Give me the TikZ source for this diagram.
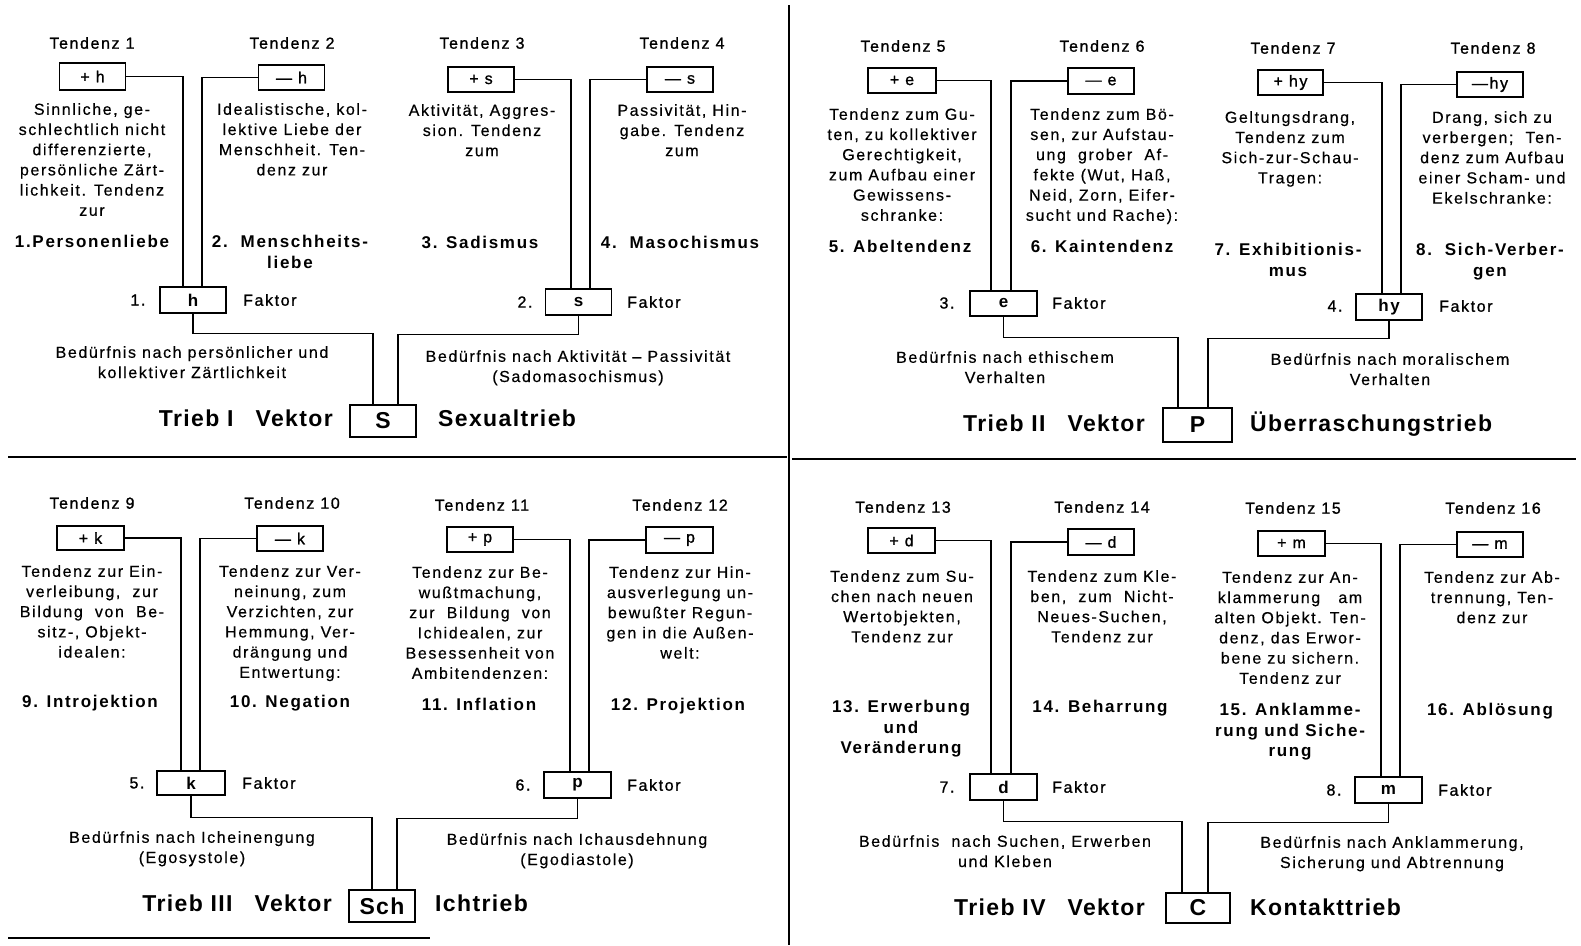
\documentclass[tikz,border=0pt]{standalone}
\usepackage{fontspec}
\setmainfont{Liberation Sans}[LetterSpace=10]
\newfontfamily\medfont{Liberation Sans}[LetterSpace=10,FakeBold=1.1]
\newfontfamily\bodyfont{Liberation Sans}[LetterSpace=10,FakeBold=0.4]
\newfontfamily\triebfont{Liberation Sans}[LetterSpace=6]
\usetikzlibrary{calc}
\begin{document}
\begin{tikzpicture}[x=1pt,y=-1pt,
  head/.style={font=\medfont\fontsize{16}{20}\selectfont, inner sep=0pt},
  desc/.style={font=\bodyfont\fontsize{16}{20.2}\selectfont, align=center, inner sep=0pt, anchor=north},
  ttl/.style={font=\bfseries\fontsize{17}{20.5}\selectfont, align=center, inner sep=0pt, anchor=north},
  tbox/.style={draw, line width=1.3pt, minimum width=66pt, minimum height=25pt, inner sep=0pt, font=\medfont\fontsize{16}{18}\selectfont},
  fbox/.style={draw, line width=1.3pt, minimum width=66pt, minimum height=26pt, inner sep=0pt, font=\bfseries\fontsize{17}{18}\selectfont},
  vbox/.style={draw, line width=1.5pt, minimum width=66pt, minimum height=32pt, inner sep=0pt, font=\triebfont\bfseries\fontsize{23}{26}\selectfont},
  trieb/.style={font=\triebfont\bfseries\fontsize{23}{26}\selectfont, inner sep=0pt},
  num/.style={font=\medfont\fontsize{16}{18}\selectfont, inner sep=0pt},
  fak/.style={font=\medfont\fontsize{16}{18}\selectfont, inner sep=0pt, anchor=west},
  conn/.style={line width=1.3pt},
  divider/.style={line width=2.2pt}]
\fill[white] (0,0) rectangle (1581,945);
\useasboundingbox (0,0) rectangle (1581,945);

% ---------- dividers ----------
\draw[divider] (789,5) -- (789,945);
\draw[divider] (8,457) -- (787,457);
\draw[divider] (792,459) -- (1576,459);
\draw[divider] (8,938) -- (430,938);

% ================= Quadrant I =================
\node[head] (t1) at (92,43) {Tendenz 1};
\node[head] (t2) at (292,43) {Tendenz 2};
\node[head] (t3) at (482,43) {Tendenz 3};
\node[head] (t4) at (682,43) {Tendenz 4};
\node[tbox, minimum height=27pt] (ph) at (92.5,76.5) {+ h};
\node[tbox] (mh) at (291.5,77.5) {— h};
\node[tbox] (ps) at (481,79.5) {+ s};
\node[tbox] (ms) at (680,79.5) {— s};
\node[desc] (d1) at (92,103) {Sinnliche, ge-\\schlechtlich nicht\\differenzierte,\\persönliche Zärt-\\lichkeit. Tendenz\\zur};
\node[desc] (d2) at (292,103) {Idealistische, kol-\\lektive Liebe der\\Menschheit. Ten-\\denz zur};
\node[desc] (d3) at (482,104) {Aktivität, Aggres-\\sion. Tendenz\\zum};
\node[desc] (d4) at (682,104) {Passivität, Hin-\\gabe. Tendenz\\zum};
\node[ttl] (b1) at (92,235) {1.Personenliebe};
\node[ttl] (b2) at (290,235) {2.\ \ Menschheits-\\liebe};
\node[ttl] (b3) at (480,236) {3. Sadismus};
\node[ttl] (b4) at (680,236) {4.\ \ Masochismus};
\node[fbox] (fh) at (193,300) {h};
\node[num] (n1) at (138,300) {1.};
\node[fak] (k1) at (243,300) {Faktor};
\node[fbox] (fs) at (578.5,302) {s};
\node[num] (n2) at (525,302) {2.};
\node[fak] (k2) at (627,302) {Faktor};
\node[desc] (e1) at (192,346) {Bedürfnis nach persönlicher und\\kollektiver Zärtlichkeit};
\node[desc] (e2) at (578,350) {Bedürfnis nach Aktivität – Passivität\\(Sadomasochismus)};
\node[trieb, anchor=base east] (v1) at (333,426) {Trieb I\hspace{22pt}Vektor};
\node[vbox] (S) at (383,421) {S};
\node[trieb, anchor=base west] (w1) at (438,426) {Sexualtrieb};
\draw[conn] (ph.east) -| ([xshift=-10pt]fh.north);
\draw[conn] (mh.west) -| ([xshift=9pt]fh.north);
\draw[conn] (ps.east) -| ([xshift=-7.5pt]fs.north);
\draw[conn] (ms.west) -| ([xshift=11.5pt]fs.north);
\draw[conn] (fh.south) -- ++(0,20) -| ([xshift=-10pt]S.north);
\draw[conn] (fs.south) -- ++(0,19) -| ([xshift=15pt]S.north);

% ================= Quadrant II =================
\node[head] (t5) at (903,46) {Tendenz 5};
\node[head] (t6) at (1102,46) {Tendenz 6};
\node[head] (t7) at (1293,48) {Tendenz 7};
\node[head] (t8) at (1493,48) {Tendenz 8};
\node[tbox, minimum width=68pt] (pe) at (902,80.5) {+ e};
\node[tbox, minimum height=26pt] (me) at (1101,81) {— e};
\node[tbox, minimum width=65pt] (phy) at (1290.5,82.5) {+ hy};
\node[tbox] (mhy) at (1490,84.5) {—hy};
\node[desc] (d5) at (902,108) {Tendenz zum Gu-\\ten, zu kollektiver\\Gerechtigkeit,\\zum Aufbau einer\\Gewissens-\\schranke:};
\node[desc] (d6) at (1102,108) {Tendenz zum Bö-\\sen, zur Aufstau-\\ung\ \ grober\ \ Af-\\fekte (Wut, Haß,\\Neid, Zorn, Eifer-\\sucht und Rache):};
\node[desc] (d7) at (1290,111) {Geltungsdrang,\\Tendenz zum\\Sich-zur-Schau-\\Tragen:};
\node[desc] (d8) at (1492,111) {Drang, sich zu\\verbergen;\ \ Ten-\\denz zum Aufbau\\einer Scham- und\\Ekelschranke:};
\node[ttl] (b5) at (900,240) {5. Abeltendenz};
\node[ttl] (b6) at (1102,240) {6. Kaintendenz};
\node[ttl] (b7) at (1288,243) {7. Exhibitionis-\\mus};
\node[ttl] (b8) at (1490,243) {8.\ \ Sich-Verber-\\gen};
\node[fbox, minimum width=67pt, minimum height=25pt] (fe) at (1003.5,303.5) {e};
\node[num] (n3) at (947,303) {3.};
\node[fak] (k3) at (1052,303) {Faktor};
\node[fbox] (fhy) at (1389,307) {hy};
\node[num] (n4) at (1335,306) {4.};
\node[fak] (k4) at (1439,306) {Faktor};
\node[desc] (e3) at (1005,351) {Bedürfnis nach ethischem\\Verhalten};
\node[desc] (e4) at (1390,353) {Bedürfnis nach moralischem\\Verhalten};
\node[trieb, anchor=base east] (v2) at (1145,431) {Trieb II\hspace{22pt}Vektor};
\node[vbox, minimum width=69pt, minimum height=34pt] (P) at (1197.5,425) {P};
\node[trieb, anchor=base west] (w2) at (1250,431) {Überraschungstrieb};
\draw[conn] (pe.east) -| ([xshift=-12.5pt]fe.north);
\draw[conn] (me.west) -| ([xshift=7.5pt]fe.north);
\draw[conn] (phy.east) -| ([xshift=-7pt]fhy.north);
\draw[conn] (mhy.west) -| ([xshift=12pt]fhy.north);
\draw[conn] (fe.south) -- ++(0,21) -| ([xshift=-19.5pt]P.north);
\draw[conn] (fhy.south) -- ++(0,18) -| ([xshift=10.5pt]P.north);

% ================= Quadrant III =================
\node[head] (t9) at (92,503) {Tendenz 9};
\node[head] (t10) at (292,503) {Tendenz 10};
\node[head] (t11) at (482,505) {Tendenz 11};
\node[head] (t12) at (680,505) {Tendenz 12};
\node[tbox, minimum width=67pt, minimum height=24pt] (pk) at (90.5,538) {+ k};
\node[tbox] (mk) at (290,538.5) {— k};
\node[tbox] (pp) at (480,539.5) {+ p};
\node[tbox, minimum width=67pt, minimum height=26pt] (mp) at (679.5,540) {— p};
\node[desc] (d9) at (92,565) {Tendenz zur Ein-\\verleibung,\ \ zur\\Bildung\ \ von\ \ Be-\\sitz-, Objekt-\\idealen:};
\node[desc] (d10) at (290,565) {Tendenz zur Ver-\\neinung, zum\\Verzichten, zur\\Hemmung, Ver-\\drängung und\\Entwertung:};
\node[desc] (d11) at (480,566) {Tendenz zur Be-\\wußtmachung,\\zur\ \ Bildung\ \ von\\Ichidealen, zur\\Besessenheit von\\Ambitendenzen:};
\node[desc] (d12) at (680,566) {Tendenz zur Hin-\\ausverlegung un-\\bewußter Regun-\\gen in die Außen-\\welt:};
\node[ttl] (b9) at (90,695) {9. Introjektion};
\node[ttl] (b10) at (290,695) {10. Negation};
\node[ttl] (b11) at (479,698) {11. Inflation};
\node[ttl] (b12) at (678,698) {12. Projektion};
\node[fbox, minimum width=68pt, minimum height=24pt] (fk) at (191,783) {k};
\node[num] (n5) at (137,783) {5.};
\node[fak] (k5) at (242,783) {Faktor};
\node[fbox, minimum width=67pt] (fp) at (577.5,785) {p};
\node[num] (n6) at (523,785) {6.};
\node[fak] (k6) at (627,785) {Faktor};
\node[desc] (e5) at (192,831) {Bedürfnis nach Icheinengung\\(Egosystole)};
\node[desc] (e6) at (577,833) {Bedürfnis nach Ichausdehnung\\(Egodiastole)};
\node[trieb, anchor=base east] (v3) at (332,911) {Trieb III\hspace{22pt}Vektor};
\node[vbox] (Sch) at (382,906) {Sch};
\node[trieb, anchor=base west] (w3) at (435,911) {Ichtrieb};
\draw[conn] (pk.east) -| ([xshift=-10pt]fk.north);
\draw[conn] (mk.west) -| ([xshift=9pt]fk.north);
\draw[conn] (pp.east) -| ([xshift=-7.5pt]fp.north);
\draw[conn] (mp.west) -| ([xshift=11.5pt]fp.north);
\draw[conn] (fk.south) -- ++(0,22) -| ([xshift=-10pt]Sch.north);
\draw[conn] (fp.south) -- ++(0,20) -| ([xshift=15pt]Sch.north);

% ================= Quadrant IV =================
\node[head] (t13) at (903,507) {Tendenz 13};
\node[head] (t14) at (1102,507) {Tendenz 14};
\node[head] (t15) at (1293,508) {Tendenz 15};
\node[head] (t16) at (1493,508) {Tendenz 16};
\node[tbox, minimum width=67pt] (pd) at (901.5,540.5) {+ d};
\node[tbox, minimum height=26pt] (md) at (1101,542) {— d};
\node[tbox, minimum width=67pt] (pm) at (1291.5,543.5) {+ m};
\node[tbox] (mm) at (1490,544.5) {— m};
\node[desc] (d13) at (902,570) {Tendenz zum Su-\\chen nach neuen\\Wertobjekten,\\Tendenz zur};
\node[desc] (d14) at (1102,570) {Tendenz zum Kle-\\ben,\ \ zum\ \ Nicht-\\Neues-Suchen,\\Tendenz zur};
\node[desc] (d15) at (1290,571) {Tendenz zur An-\\klammerung\ \ \ am\\alten Objekt. Ten-\\denz, das Erwor-\\bene zu sichern.\\Tendenz zur};
\node[desc] (d16) at (1492,571) {Tendenz zur Ab-\\trennung, Ten-\\denz zur};
\node[ttl] (b13) at (901,700) {13. Erwerbung\\und\\Veränderung};
\node[ttl] (b14) at (1100,700) {14. Beharrung};
\node[ttl] (b15) at (1290,703) {15. Anklamme-\\rung und Siche-\\rung};
\node[ttl] (b16) at (1490,703) {16. Ablösung};
\node[fbox, minimum width=67pt] (fd) at (1003.5,787) {d};
\node[num] (n7) at (947,787) {7.};
\node[fak] (k7) at (1052,787) {Faktor};
\node[fbox, minimum width=67pt] (fm) at (1388.5,790) {m};
\node[num] (n8) at (1334,790) {8.};
\node[fak] (k8) at (1438,790) {Faktor};
\node[desc] (e7) at (1005,835) {Bedürfnis\ \ nach Suchen, Erwerben\\und Kleben};
\node[desc] (e8) at (1392,836) {Bedürfnis nach Anklammerung,\\Sicherung und Abtrennung};
\node[trieb, anchor=base east] (v4) at (1145,915) {Trieb IV\hspace{22pt}Vektor};
\node[vbox, minimum width=64pt, minimum height=30pt] (C) at (1198,908) {C};
\node[trieb, anchor=base west] (w4) at (1250,915) {Kontakttrieb};
\draw[conn] (pd.east) -| ([xshift=-12.5pt]fd.north);
\draw[conn] (md.west) -| ([xshift=7.5pt]fd.north);
\draw[conn] (pm.east) -| ([xshift=-7.5pt]fm.north);
\draw[conn] (mm.west) -| ([xshift=11.5pt]fm.north);
\draw[conn] (fd.south) -- ++(0,21) -| ([xshift=-16pt]C.north);
\draw[conn] (fm.south) -- ++(0,19) -| ([xshift=10pt]C.north);
\end{tikzpicture}
\end{document}
